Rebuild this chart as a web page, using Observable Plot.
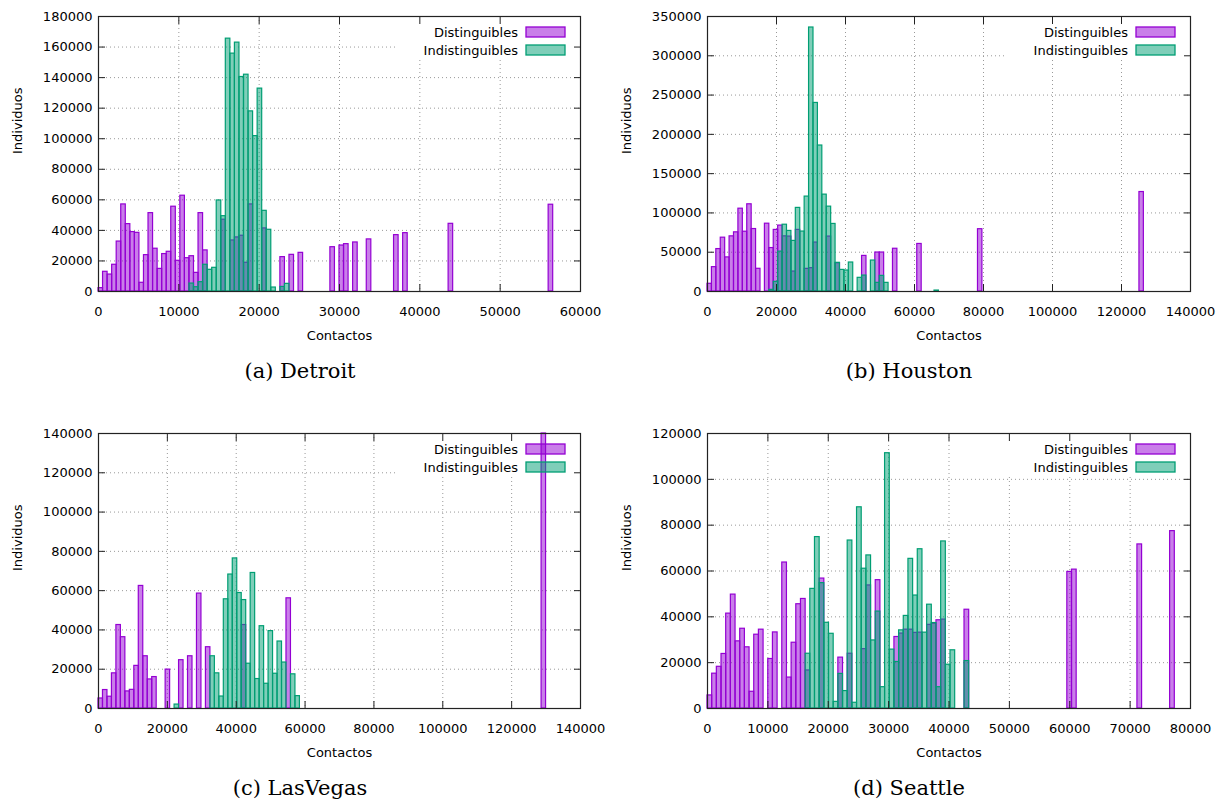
<!DOCTYPE html>
<html><head><meta charset="utf-8">
<script src="https://cdn.jsdelivr.net/npm/d3@7"></script>
<script src="https://cdn.jsdelivr.net/npm/@observablehq/plot@0.6"></script>
<style>
body{margin:0;background:#fff;}
#root{position:relative;width:1223px;height:802px;overflow:hidden;background:#fff;}
.panel{position:absolute;}
.panel svg{overflow:visible;}
.cap{position:absolute;font-family:"DejaVu Serif",serif;font-size:21px;line-height:26px;transform:translateX(-50%);white-space:nowrap;color:#000;}
</style></head>
<body><div id="root"></div>
<script>
// ---- data: [bin left edge (contactos), individuos] ----
const detroitDist = [[0,2200],[566,12900],[1132,11100],[1698,17500],[2264,32700],[2830,57000],[3396,44100],[3962,38900],[4528,38400],[5094,5700],[5660,23800],[6226,51300],[6792,28000],[7358,14800],[7924,24500],[8490,26000],[9056,55500],[9622,20100],[10188,62700],[10754,21800],[11320,23100],[11886,12200],[12452,51300],[13018,26900],[15282,47000],[16414,33400],[16980,35400],[17546,36500],[18112,18800],[18678,57000],[20376,41300],[22640,22500],[23772,24000],[24904,25300],[28866,29000],[29998,30100],[30564,31000],[31696,32100],[33394,34100],[36790,36900],[37922,38200],[43582,44300],[56034,56800]];
const detroitIndist = [[11320,5200],[11886,2800],[12452,6100],[13018,17500],[13584,14200],[14150,15500],[14716,59600],[15282,49300],[15848,165500],[16414,155700],[16980,162900],[17546,140400],[18112,141900],[18678,117900],[19244,101700],[19810,132800],[20376,52800],[20942,40400],[21508,2600],[22640,3000],[23206,5000]];

const houstonDist = [[0,9800],[1280,31000],[2560,54000],[3840,68500],[5120,43400],[6400,70200],[7680,75300],[8960,105400],[10240,76100],[11520,111000],[12800,79500],[14080,28900],[16640,86300],[17920,55300],[19200,78400],[20480,83900],[21760,70200],[23040,69900],[24320,25400],[25600,78400],[28160,28800],[29440,29700],[30720,62300],[34560,69900],[37120,36000],[44800,45300],[48640,49600],[49920,49600],[53760,54400],[60800,60500],[78400,79300],[125200,126600]];
const houstonIndist = [[17920,2100],[19200,12300],[20480,50800],[21760,85000],[23040,77100],[24320,64400],[25600,106400],[26880,76300],[28160,120800],[29440,336000],[30720,240000],[32000,185800],[33280,123300],[34560,108000],[35840,86000],[37120,36500],[38400,27500],[39680,26700],[40960,36900],[43520,17400],[44800,20300],[47360,39400],[48640,11000],[49920,19900],[51200,11000],[65800,1200]];

const lasvegasDist = [[0,5100],[1300,9400],[2600,6000],[3900,17900],[5200,42500],[6500,36300],[7800,8700],[9100,9500],[10400,21700],[11700,62400],[13000,26600],[14300,14800],[15600,16000],[19500,19800],[23400,24600],[26000,26600],[28600,58500],[31200,31200],[41600,42500],[54600,56100],[128700,140000]];
const lasvegasIndist = [[22100,2000],[32500,26600],[33800,17900],[35100,6100],[36400,55600],[37700,68200],[39000,76400],[40300,58800],[41600,55200],[42900,22800],[44200,69000],[45500,15000],[46800,41900],[48100,12600],[49400,39400],[50700,17700],[52000,34100],[53300,23400],[55900,17400],[57200,6300]];

const seattleDist = [[0,5700],[774,15200],[1548,18200],[2322,23800],[3096,41400],[3870,49700],[4644,29300],[5418,34800],[6192,26700],[6966,7300],[7740,32200],[8514,34400],[10062,21600],[10836,33200],[12384,63700],[13158,13500],[13932,28700],[14706,45500],[15480,47800],[16254,16600],[18576,56700],[21672,22200],[23220,23900],[25542,25900],[26316,53700],[27864,56000],[30960,31200],[31734,32700],[32508,34400],[33282,34400],[34056,33000],[34830,33100],[36378,36500],[37152,37000],[37926,38500],[38700,38800],[42570,43100],[59598,59600],[60372,60600],[71208,71600],[76626,77400]];
const seattleIndist = [[16254,23900],[17028,52200],[17802,74800],[18576,54700],[19350,37400],[20124,32600],[20898,2900],[21672,15100],[22446,7600],[23220,73300],[23994,2500],[24768,87800],[25542,61000],[26316,66800],[27090,29700],[27864,42300],[28638,9300],[29412,111400],[30186,25700],[30960,20300],[31734,34100],[32508,40400],[33282,65300],[34056,49300],[34830,69500],[35604,33100],[36378,45300],[37152,37300],[37926,9300],[38700,72900],[39474,19100],[40248,25400],[42570,20700]];

const seriesNames = ["Distinguibles", "Indistinguibles"];
const captions = ["(a) Detroit", "(b) Houston", "(c) LasVegas", "(d) Seattle"];
const xTitle = "Contactos";
const yTitle = "Individuos";

const detroitXTicks = [0,10000,20000,30000,40000,50000,60000];
const detroitYTicks = [0,20000,40000,60000,80000,100000,120000,140000,160000,180000];
const houstonXTicks = [0,20000,40000,60000,80000,100000,120000,140000];
const houstonYTicks = [0,50000,100000,150000,200000,250000,300000,350000];
const lasvegasXTicks = [0,20000,40000,60000,80000,100000,120000,140000];
const lasvegasYTicks = [0,20000,40000,60000,80000,100000,120000,140000];
const seattleXTicks = [0,10000,20000,30000,40000,50000,60000,70000,80000];
const seattleYTicks = [0,20000,40000,60000,80000,100000,120000];

// ---- styling ----
const PURPLE = "#9400d3";
const GREEN = "#009e73";
const FONT = "DejaVu Sans";

function legendMark(withBg) {
  return (index, scales, values, dim) => {
    const g = d3.create("svg:g");
    const right = dim.width - dim.marginRight;
    const top = dim.marginTop;
    if (withBg) {
      g.append("rect").attr("x", right - 184).attr("y", top + 1)
        .attr("width", 183).attr("height", 43).attr("fill", "#fff");
      return g.node();
    }
    const cols = [PURPLE, GREEN];
    seriesNames.forEach((name, i) => {
      const cy = top + 16 + i * 18;
      g.append("text").attr("x", right - 62).attr("y", cy).attr("dy", "0.35em")
        .attr("text-anchor", "end").attr("font-family", FONT).attr("font-size", 13)
        .attr("fill", "#000").text(name);
      g.append("rect").attr("x", right - 54).attr("y", cy - 5).attr("width", 39).attr("height", 10)
        .attr("fill", cols[i]).attr("fill-opacity", 0.5).attr("stroke", cols[i]).attr("stroke-width", 1.3);
    });
    return g.node();
  };
}

function panel(dist, indist, bw, xTicks, yTicks, width, marginRight) {
  const xMax = xTicks[xTicks.length - 1], yMax = yTicks[yTicks.length - 1];
  const fmt = d3.format("d");
  const gridStyle = {stroke: "#999", strokeDasharray: "1,3", strokeWidth: 1};
  return Plot.plot({
    width, height: 345,
    marginLeft: 98, marginRight, marginTop: 16, marginBottom: 54,
    style: {fontFamily: FONT, fontSize: "13px", background: "transparent", color: "#000", overflow: "visible"},
    x: {domain: [0, xMax]},
    y: {domain: [0, yMax]},
    marks: [
      Plot.ruleX(xTicks.slice(1, -1), {...gridStyle}),
      Plot.ruleY(yTicks.slice(1, -1), {...gridStyle}),
      legendMark(true),
      Plot.rect(dist, {x1: d => d[0], x2: d => d[0] + bw, y1: d => 0, y2: d => Math.min(d[1], yMax),
        fill: PURPLE, fillOpacity: 0.5, stroke: PURPLE, strokeWidth: 1.2}),
      Plot.rect(indist, {x1: d => d[0], x2: d => d[0] + bw, y1: d => 0, y2: d => Math.min(d[1], yMax),
        fill: GREEN, fillOpacity: 0.5, stroke: GREEN, strokeWidth: 1.2}),
      legendMark(false),
      Plot.frame({stroke: "#222", strokeWidth: 1.2}),
      Plot.axisX(xTicks, {anchor: "bottom", tickSize: 0, tickPadding: 15, tickFormat: fmt, label: null, fill: "#000"}),
      Plot.axisX(xTicks, {anchor: "bottom", tickSize: 7, dy: -7, tickFormat: () => "", label: null, stroke: "#222"}),
      Plot.axisX(xTicks, {anchor: "top", tickSize: 7, dy: 7, tickFormat: () => "", label: null, stroke: "#222"}),
      Plot.axisY(yTicks, {anchor: "left", tickSize: 0, tickPadding: 6, tickFormat: fmt, label: null, fill: "#000"}),
      Plot.axisY(yTicks, {anchor: "left", tickSize: 7, dx: 7, tickFormat: () => "", label: null, stroke: "#222"}),
      Plot.axisY(yTicks, {anchor: "right", tickSize: 7, dx: -7, tickFormat: () => "", label: null, stroke: "#222"}),
      Plot.text([xTitle], {frameAnchor: "bottom", dy: 48, text: d => d, fontSize: 13, fill: "#000"}),
      Plot.text([yTitle], {frameAnchor: "left", dx: -81, rotate: -90, text: d => d, fontSize: 13, fill: "#000"})
    ]
  });
}

const root = document.getElementById("root");
const specs = [
  [detroitDist, detroitIndist, 566, detroitXTicks, detroitYTicks, 0, 0, 612, 32],
  [houstonDist, houstonIndist, 1280, houstonXTicks, houstonYTicks, 609, 0, 614, 33],
  [lasvegasDist, lasvegasIndist, 1300, lasvegasXTicks, lasvegasYTicks, 0, 417, 612, 32],
  [seattleDist, seattleIndist, 774, seattleXTicks, seattleYTicks, 609, 417, 614, 33]
];
const capPos = [[300, 358], [909, 358], [300, 775], [909, 775]];
specs.forEach((s, i) => {
  const div = document.createElement("div");
  div.className = "panel";
  div.style.left = s[5] + "px";
  div.style.top = s[6] + "px";
  div.appendChild(panel(s[0], s[1], s[2], s[3], s[4], s[7], s[8]));
  root.appendChild(div);
  const cap = document.createElement("div");
  cap.className = "cap";
  cap.style.left = capPos[i][0] + "px";
  cap.style.top = capPos[i][1] + "px";
  cap.textContent = captions[i];
  root.appendChild(cap);
});
</script>
</body></html>
